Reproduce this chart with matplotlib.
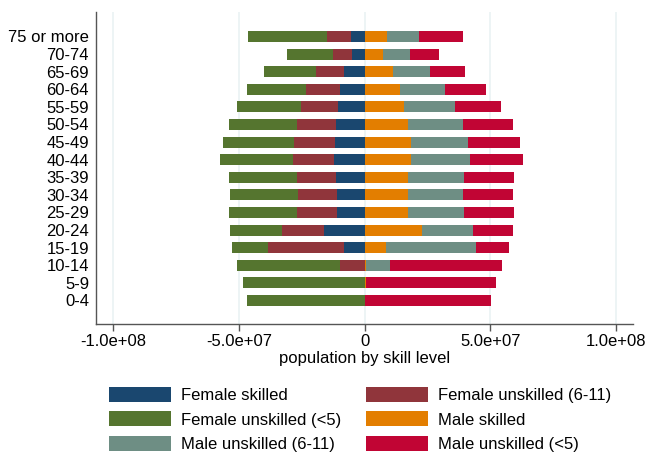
import matplotlib
matplotlib.use("Agg")
import matplotlib.pyplot as plt
import numpy as np

plt.rcParams['font.family'] = ['Liberation Sans', 'DejaVu Sans']

# Age groups, listed from the top of the chart downwards
age_groups = ["75 or more", "70-74", "65-69", "60-64", "55-59", "50-54", "45-49",
              "40-44", "35-39", "30-34", "25-29", "20-24", "15-19", "10-14",
              "5-9", "0-4"]

# Population by skill level (millions), same order as age_groups
female_skilled = [5.3, 4.9, 8.1, 9.9, 10.8, 11.6, 12.0, 12.4, 11.6, 11.2, 11.2,
                  16.4, 8.1, 0.0, 0.0, 0.0]
female_unsk_6_11 = [9.9, 7.7, 11.1, 13.3, 14.4, 15.2, 16.0, 16.0, 15.2, 15.2, 15.6,
                    16.4, 30.3, 9.7, 0.0, 0.0]
female_unsk_lt5 = [31.2, 18.3, 20.8, 23.6, 25.6, 27.2, 28.4, 29.2, 27.2, 27.2, 27.2,
                   20.8, 14.4, 41.1, 48.4, 46.8]
male_skilled = [9.0, 7.4, 11.4, 14.2, 15.7, 17.3, 18.5, 18.5, 17.3, 17.3, 17.3,
                22.8, 8.6, 0.4, 0.5, 0.0]
male_unsk_6_11 = [12.7, 10.4, 14.7, 17.9, 20.2, 21.8, 22.6, 23.4, 22.2, 21.8, 22.2,
                  20.4, 35.7, 9.8, 0.0, 0.0]
male_unsk_lt5 = [17.5, 11.8, 13.9, 16.3, 18.3, 19.8, 20.6, 21.0, 19.8, 19.8, 19.8,
                 15.9, 13.1, 44.4, 51.7, 50.3]

tick_values = [-1e8, -5e7, 0, 5e7, 1e8]
tick_labels = ["-1.0e+08", "-5.0e+07", "0", "5.0e+07", "1.0e+08"]

colors = {
    "Female skilled": "#1a476f",
    "Female unskilled (6-11)": "#90353b",
    "Female unskilled (<5)": "#55752f",
    "Male skilled": "#e37e00",
    "Male unskilled (6-11)": "#6e8e84",
    "Male unskilled (<5)": "#c10534",
}

fig = plt.figure(figsize=(6.48, 4.55), dpi=100)
ax = fig.add_axes([96 / 648, 1 - 324 / 455, 537 / 648, 312 / 455])

n = len(age_groups)
y = np.arange(n)[::-1]  # top group at the highest position
h = 0.625
M = 1e6

fs = np.array(female_skilled) * M
f611 = np.array(female_unsk_6_11) * M
f5 = np.array(female_unsk_lt5) * M
ms = np.array(male_skilled) * M
m611 = np.array(male_unsk_6_11) * M
m5 = np.array(male_unsk_lt5) * M

bars = {}
# Females extend to the left of zero, males to the right
bars["Female skilled"] = ax.barh(y, -fs, height=h, color=colors["Female skilled"], zorder=3)
bars["Female unskilled (6-11)"] = ax.barh(y, -f611, left=-fs, height=h,
                                          color=colors["Female unskilled (6-11)"], zorder=3)
bars["Female unskilled (<5)"] = ax.barh(y, -f5, left=-(fs + f611), height=h,
                                        color=colors["Female unskilled (<5)"], zorder=3)
bars["Male skilled"] = ax.barh(y, ms, height=h, color=colors["Male skilled"], zorder=3)
bars["Male unskilled (6-11)"] = ax.barh(y, m611, left=ms, height=h,
                                        color=colors["Male unskilled (6-11)"], zorder=3)
bars["Male unskilled (<5)"] = ax.barh(y, m5, left=ms + m611, height=h,
                                      color=colors["Male unskilled (<5)"], zorder=3)

ax.set_xlim(-1.069e8, 1.067e8)
ax.set_ylim(-1.34, 16.39)
ax.set_yticks(y)
ax.set_yticklabels(age_groups, fontsize=12)
ax.set_xticks(tick_values)
ax.set_xticklabels(tick_labels, fontsize=12)
ax.tick_params(axis="y", length=0, pad=5)
ax.tick_params(axis="x", length=5, width=1, color="#555555", pad=2)

for x in tick_values:
    ax.axvline(x, color="#eaf2f3", linewidth=1.2, zorder=1)

for side in ["top", "right"]:
    ax.spines[side].set_visible(False)
for side in ["left", "bottom"]:
    ax.spines[side].set_color("#555555")
    ax.spines[side].set_linewidth(1.0)

ax.set_xlabel("population by skill level", fontsize=12, labelpad=2)

# Legend laid out in two columns, filled row by row
order = ["Female skilled", "Female unskilled (<5)", "Male unskilled (6-11)",
         "Female unskilled (6-11)", "Male skilled", "Male unskilled (<5)"]
handles = [bars[k] for k in order]
fig.legend(handles, order, loc="upper left", bbox_to_anchor=(109 / 648, 1 - 387 / 455),
           ncol=2, frameon=False, fontsize=12, handlelength=3.72, handleheight=1.02,
           handletextpad=0.6, columnspacing=1.5, labelspacing=0.48, borderpad=0,
           borderaxespad=0)

fig.savefig("out.png", dpi=100)
